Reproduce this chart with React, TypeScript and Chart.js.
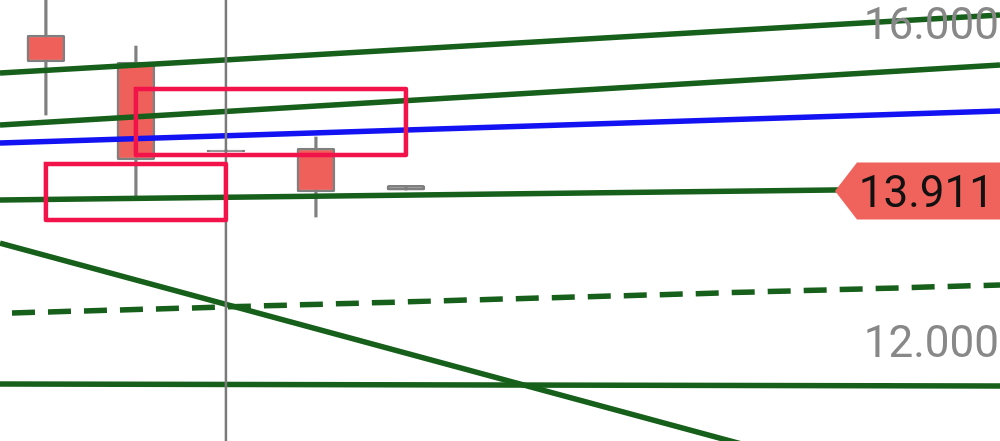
import React, { useEffect, useRef } from "react";
import { Chart, registerables } from "chart.js";

Chart.register(...registerables);

// ---- candles (index along the time axis) ----
const candleIndex = [0, 1, 2, 3, 4];
const openValues = [15.862, 15.522, 14.415, 14.44, 13.97];
const highValues = [16.4, 15.723, 14.415, 14.579, 13.97];
const lowValues = [14.855, 13.824, 14.395, 13.572, 13.911];
const closeValues = [15.522, 14.289, 14.395, 13.887, 13.911];

// ---- axes ----
const xRange = [-0.51, 10.6];
const yRange = [10.755, 16.302];
const yTickValues = [12, 16];
const yTickLabels = ["12.000", "16.000"];
const lastPrice = 13.911;
const lastPriceLabel = "13.911";

// ---- trend lines: values at x = lineX[0] and x = lineX[1] ----
const lineX = [-0.51, 10.6];
const greenTopLine = [15.384, 16.113];
const greenUpperLine = [14.73, 15.484];
const blueLine = [14.503, 14.906];
const greenPriceLine = [13.786, 13.937];
const greenFallingLine = [13.245, 9.836];
const greenDashedLine = [12.361, 12.717];
const greenBottomLine = [11.472, 11.447];

// ---- vertical marker ----
const crosshairX = 2;
const crosshairY = [9, 17];

// ---- boxes: [x from, x to], [top, bottom] ----
const boxLowX = [0, 2];
const boxLowY = [14.239, 13.535];
const boxHighX = [1, 4];
const boxHighY = [15.182, 14.352];

const GREEN = "#17601b";
const BOX = "#f2134b";
const WICK = "#7f7f7f";

const linePts = (vals: number[]) => lineX.map((x, k) => ({ x, y: vals[k] }));
const boxPts = (xs: number[], ys: number[]) => [
  { x: xs[0], y: ys[0] },
  { x: xs[1], y: ys[0] },
  { x: xs[1], y: ys[1] },
  { x: xs[0], y: ys[1] },
  { x: xs[0], y: ys[0] },
];

const lineDs = (data: any[], color: string, order: number, extra: any = {}) => ({
  type: "line" as const,
  data,
  borderColor: color,
  borderWidth: 5.5,
  pointRadius: 0,
  tension: 0,
  fill: false,
  order,
  ...extra,
});

const overlayPlugin = {
  id: "overlay",
  afterDatasetsDraw(chart: any) {
    const { ctx, chartArea } = chart;
    const y = chart.scales.y;
    const right = chartArea.right;
    ctx.save();
    ctx.font = "44px Roboto";
    ctx.textAlign = "right";
    ctx.textBaseline = "alphabetic";
    ctx.fillStyle = "#888888";
    yTickValues.forEach((v, k) => {
      const py = y.getPixelForValue(v);
      ctx.fillText(yTickLabels[k], right - 1, py + 15);
    });
    const cy = y.getPixelForValue(lastPrice) + 1;
    ctx.fillStyle = "#f0625c";
    ctx.beginPath();
    ctx.moveTo(right - 165, cy);
    ctx.lineTo(right - 143, cy - 28.5);
    ctx.lineTo(right, cy - 28.5);
    ctx.lineTo(right, cy + 28.5);
    ctx.lineTo(right - 143, cy + 28.5);
    ctx.closePath();
    ctx.fill();
    ctx.fillStyle = "#111111";
    ctx.fillText(lastPriceLabel, right - 6, cy + 16);
    ctx.restore();
  },
};

export default function App() {
  const canvasRef = useRef<HTMLCanvasElement | null>(null);

  useEffect(() => {
    if (!canvasRef.current) return;
    const chart = new Chart(canvasRef.current, {
      type: "bar",
      data: {
        datasets: [
          lineDs(boxPts(boxLowX, boxLowY), BOX, 1, { borderWidth: 4.5, borderCapStyle: "square", borderJoinStyle: "round" }),
          lineDs(boxPts(boxHighX, boxHighY), BOX, 1, { borderWidth: 4.5, borderCapStyle: "square", borderJoinStyle: "round" }),
          lineDs(
            crosshairY.map((v) => ({ x: crosshairX, y: v })),
            "#7a7a7a",
            2,
            { borderWidth: 2.5 }
          ),
          lineDs(linePts(blueLine), "#1212f2", 3),
          lineDs(linePts(greenTopLine), GREEN, 4),
          lineDs(linePts(greenUpperLine), GREEN, 4),
          lineDs(linePts(greenPriceLine), GREEN, 4),
          lineDs(linePts(greenFallingLine), GREEN, 4),
          lineDs(linePts(greenDashedLine), GREEN, 4, { borderDash: [23, 13], borderDashOffset: 24 }),
          lineDs(linePts(greenBottomLine), GREEN, 4),
          {
            type: "bar" as const,
            data: candleIndex.map((x, k) => ({ x, y: [openValues[k], closeValues[k]] })),
            backgroundColor: (c: any) => {
              const k = c.dataIndex;
              return Math.abs(openValues[k] - closeValues[k]) < 0.08 ? WICK : "#f0605a";
            },
            borderColor: WICK,
            borderWidth: 2.5,
            borderSkipped: false,
            borderRadius: 2,
            barThickness: 38,
            grouped: false,
            order: 8,
          } as any,
          {
            type: "bar" as const,
            data: candleIndex.map((x, k) => ({ x, y: [lowValues[k], highValues[k]] })),
            backgroundColor: WICK,
            borderWidth: 0,
            barThickness: 2.5,
            grouped: false,
            order: 9,
          } as any,
        ],
      },
      options: {
        responsive: true,
        maintainAspectRatio: false,
        animation: false,
        layout: { padding: 0 },
        plugins: { legend: { display: false }, tooltip: { enabled: false } },
        scales: {
          x: { type: "linear", min: xRange[0], max: xRange[1], display: false, offset: false },
          y: { type: "linear", min: yRange[0], max: yRange[1], display: false },
        },
      },
      plugins: [overlayPlugin],
    } as any);
    return () => chart.destroy();
  }, []);

  return (
    <div style={{ position: "absolute", left: 0, top: 0, width: 1000, height: 441, background: "#ffffff" }}>
      <canvas ref={canvasRef} />
    </div>
  );
}
